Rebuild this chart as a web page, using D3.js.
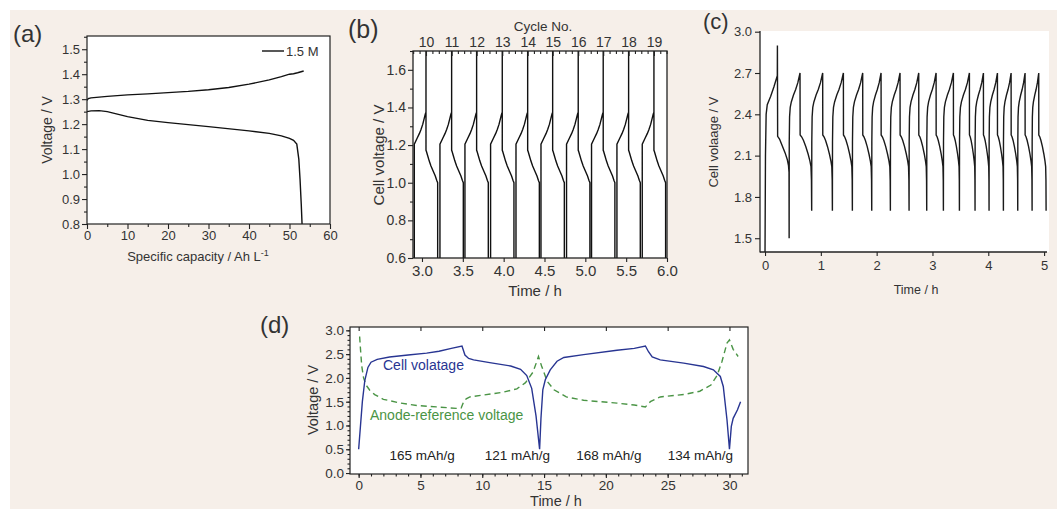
<!DOCTYPE html>
<html>
<head>
<meta charset="utf-8">
<script src="https://cdn.jsdelivr.net/npm/d3@7/dist/d3.min.js"></script>
<style>
  body { margin: 0; background: #fff; }
  svg { display: block; font-family: "Liberation Sans", Arial, sans-serif; }
</style>
</head>
<body>
<svg id="fig" width="1057" height="509"></svg>
<script>
// ---- panel (a): charge / discharge vs capacity
var aChargeCap = [0, 0.3, 1, 5, 10, 15, 20, 25, 30, 35, 40, 45, 48, 50, 51, 52, 53.5];
var aChargeV   = [1.295, 1.302, 1.305, 1.311, 1.317, 1.321, 1.326, 1.331, 1.338, 1.347, 1.36, 1.377, 1.39, 1.40, 1.402, 1.406, 1.413];
var aDisCap = [0, 1, 3, 5, 8, 10, 15, 20, 30, 40, 45, 48, 50, 51, 51.8, 52.3, 52.6, 52.9, 53.1];
var aDisV   = [1.25, 1.253, 1.254, 1.25, 1.238, 1.23, 1.215, 1.206, 1.19, 1.173, 1.163, 1.153, 1.143, 1.135, 1.12, 1.06, 0.98, 0.88, 0.8];
var aXTicks = [0, 10, 20, 30, 40, 50, 60];
var aYTicks = [0.8, 0.9, 1.0, 1.1, 1.2, 1.3, 1.4, 1.5];

// ---- panel (b): cycles 10-19, one cycle shape, cycle charge-end times
var bCycleNo = [10, 11, 12, 13, 14, 15, 16, 17, 18, 19];
var bChargeEnd = [3.049, 3.363, 3.669, 3.983, 4.294, 4.60, 4.913, 5.219, 5.53, 5.84];
var bChgRelT = [-0.143, -0.11, -0.08, -0.061, -0.04, -0.02, -0.008, 0];
var bChgV    = [1.205, 1.235, 1.262, 1.283, 1.31, 1.345, 1.365, 1.375];
var bDisRelT = [0, 0.004, 0.02, 0.04, 0.061, 0.09, 0.114, 0.132, 0.143];
var bDisV    = [1.172, 1.168, 1.145, 1.115, 1.089, 1.06, 1.036, 1.012, 1.0];
var bXTicks = [3.0, 3.5, 4.0, 4.5, 5.0, 5.5, 6.0];
var bYTicks = [0.6, 0.8, 1.0, 1.2, 1.4, 1.6];

// ---- panel (c): first cycle, then peak / bottom times of every cycle
var cFirstT = [0, 0.008, 0.02, 0.04, 0.1, 0.16, 0.22, 0.222, 0.226, 0.26, 0.31, 0.36, 0.40, 0.42, 0.43, 0.432];
var cFirstV = [1.4, 2.1, 2.4, 2.47, 2.53, 2.6, 2.68, 2.9, 2.24, 2.22, 2.17, 2.12, 2.07, 2.03, 1.98, 1.5];
var cPeakT   = [0.22, 0.627, 1.033, 1.404, 1.750, 2.079, 2.419, 2.754, 3.065, 3.375, 3.662, 3.913, 4.164, 4.409, 4.659, 4.904];
var cBottomT = [0.432, 0.836, 1.207, 1.565, 1.912, 2.246, 2.581, 2.897, 3.196, 3.483, 3.763, 4.014, 4.271, 4.528, 4.785, 5.036];
var cBottomV = [1.5, 1.7, 1.7, 1.7, 1.7, 1.7, 1.7, 1.7, 1.7, 1.7, 1.7, 1.7, 1.7, 1.7, 1.7, 1.7];
var cChgFrac = [0, 0.01, 0.04, 0.1, 0.2, 0.4, 0.6, 0.8, 1];
var cChgV    = [null, 2.2, 2.38, 2.45, 2.49, 2.54, 2.58, 2.63, 2.7];
var cDisFrac = [0, 0.01, 0.15, 0.3, 0.5, 0.7, 0.85, 0.94, 0.98, 1];
var cDisV    = [2.7, 2.25, 2.235, 2.21, 2.165, 2.11, 2.06, 2.02, 1.92, null];
var cXTicks = [0, 1, 2, 3, 4, 5];
var cYTicks = [1.5, 1.8, 2.1, 2.4, 2.7, 3.0];

// ---- panel (d): cell and anode-reference voltage
var dCellT = [0, 0.15, 0.3, 0.5, 0.75, 1.0, 1.5, 2.5, 4, 5.5, 6.5, 7.5, 8.36, 8.6, 8.9, 9.3, 10.6, 12.3, 13.1, 13.6, 14.0, 14.35, 14.64,
              14.75, 14.9, 15.1, 15.5, 16.05, 16.6, 18.2, 20.9, 22.3, 23.2, 23.45, 23.75, 24.4, 26.3, 27.9, 28.7, 29.26, 29.5, 29.8, 30.0,
              30.15, 30.3, 30.65, 30.9];
var dCellV = [0.5, 1.0, 1.5, 1.95, 2.22, 2.33, 2.39, 2.44, 2.48, 2.52, 2.56, 2.62, 2.67, 2.48, 2.41, 2.38, 2.32, 2.25, 2.18, 2.05, 1.78, 1.2, 0.5,
              1.15, 1.75, 1.96, 2.17, 2.35, 2.43, 2.49, 2.58, 2.62, 2.67, 2.55, 2.44, 2.38, 2.31, 2.24, 2.17, 2.03, 1.82, 1.12, 0.5,
              0.98, 1.15, 1.33, 1.5];
var dAnodeT = [0.08, 0.15, 0.25, 0.4, 0.6, 0.9, 1.3, 2.0, 3.4, 4.7, 6.3, 7.9, 8.3, 8.5, 8.7, 9.0, 10.1, 11.7, 12.8, 13.5, 14.1, 14.35, 14.55,
               14.8, 15.25, 15.8, 16.8, 18.2, 20.9, 22.3, 23.2, 23.6, 24.4, 26.3, 27.6, 28.5, 29.0, 29.4, 29.8, 30.0, 30.3, 30.7];
var dAnodeV = [2.87, 2.6, 2.25, 2.0, 1.85, 1.74, 1.65, 1.55, 1.47, 1.42, 1.39, 1.36, 1.37, 1.5, 1.56, 1.6, 1.64, 1.7, 1.77, 1.9, 2.12, 2.3, 2.45,
               2.25, 1.93, 1.75, 1.6, 1.53, 1.47, 1.43, 1.39, 1.5, 1.6, 1.65, 1.72, 1.85, 2.05, 2.35, 2.73, 2.8, 2.6, 2.45];
var dCapLabels = ["165 mAh/g", "121 mAh/g", "168 mAh/g", "134 mAh/g"];
var dCapLabelT = [2.5, 10.2, 17.6, 25.0];
var dXTicks = [0, 5, 10, 15, 20, 25, 30];
var dYTicks = [0.0, 0.5, 1.0, 1.5, 2.0, 2.5, 3.0];

var INK = '#222', TXT = '#333';
var svg = d3.select('#fig');
var defs = svg.append('defs');

svg.append('rect').attr('x', 10).attr('y', 10).attr('width', 1047).attr('height', 499).attr('fill', '#f6efe9');

function addAxis(axis, tx, ty, size) {
	var a = svg.append('g').attr('transform', 'translate(' + tx + ',' + ty + ')').call(axis);
	a.attr('font-family', null).attr('font-size', size);
	a.select('.domain').remove();
	a.selectAll('line').attr('stroke', INK).attr('stroke-width', 1.1);
	a.selectAll('text').attr('fill', TXT);
	return a;
}

function mids(arr) {
	var out = [];
	for (var i = 0; i < arr.length - 1; i++) out.push((arr[i] + arr[i + 1]) / 2);
	return out;
}

function label(txt, x, y, size, opts) {
	opts = opts || {};
	var t = svg.append('text').attr('x', x).attr('y', y).attr('font-size', size)
		.attr('fill', opts.fill || TXT).attr('text-anchor', opts.anchor || 'middle').text(txt);
	if (opts.rotate) t.attr('transform', 'rotate(-90,' + x + ',' + y + ')');
	return t;
}

function clip(id, x, y, w, h) {
	defs.append('clipPath').attr('id', id).append('rect').attr('x', x).attr('y', y).attr('width', w).attr('height', h);
}

// ================= (a)
(function () {
	var x = d3.scaleLinear().domain([0, 60]).range([87, 330]);
	var y = d3.scaleLinear().domain([0.8, 1.553]).range([224, 36]);
	svg.append('rect').attr('x', 87).attr('y', 36).attr('width', 243).attr('height', 188).attr('fill', '#fff');

	var line = d3.line().x(function (d) { return x(d[0]); }).y(function (d) { return y(d[1]); });
	clip('clipA', 87, 36, 243, 188);
	var g = svg.append('g').attr('clip-path', 'url(#clipA)');
	g.append('path').attr('d', line(d3.zip(aChargeCap, aChargeV))).attr('fill', 'none').attr('stroke', '#111').attr('stroke-width', 1.4);
	g.append('path').attr('d', line(d3.zip(aDisCap, aDisV))).attr('fill', 'none').attr('stroke', '#111').attr('stroke-width', 1.4);

	addAxis(d3.axisLeft(y).tickValues(aYTicks).tickSize(5).tickPadding(2).tickFormat(d3.format('.1f')), 87, 0, 13);
	addAxis(d3.axisLeft(y).tickValues(mids(aYTicks).concat([1.55])).tickSize(3).tickFormat(''), 87, 0, 13);
	addAxis(d3.axisBottom(x).tickValues(aXTicks).tickSize(5).tickPadding(2), 0, 224, 13);
	addAxis(d3.axisBottom(x).tickValues(mids(aXTicks)).tickSize(3).tickFormat(''), 0, 224, 13);
	svg.append('rect').attr('x', 87).attr('y', 36).attr('width', 243).attr('height', 188)
		.attr('fill', 'none').attr('stroke', INK).attr('stroke-width', 1.2);

	svg.append('line').attr('x1', 262).attr('x2', 284).attr('y1', 51).attr('y2', 51).attr('stroke', '#111').attr('stroke-width', 1.4);
	label('1.5 M', 286, 56, 13, { anchor: 'start' });

	var t = label('Specific capacity / Ah L', 198, 261, 13);
	t.append('tspan').attr('dy', -5).attr('font-size', 9).text('-1');
	label('Voltage / V', 52, 130, 14, { rotate: true });
	label('(a)', 13, 42, 24, { anchor: 'start' });
})();

// ================= (b)
(function () {
	var x = d3.scaleLinear().domain([2.89, 6.0]).range([413, 667]);
	var y = d3.scaleLinear().domain([0.6, 1.7]).range([258, 51]);
	svg.append('rect').attr('x', 413).attr('y', 51).attr('width', 254).attr('height', 207).attr('fill', '#fff');

	var pts = [];
	bChargeEnd.forEach(function (tc) {
		pts.push([tc + bChgRelT[0], 0.5]);
		bChgRelT.forEach(function (r, k) { pts.push([tc + r, bChgV[k]]); });
		pts.push([tc, 1.8]);
		bDisRelT.forEach(function (r, k) { pts.push([tc + r, bDisV[k]]); });
		pts.push([tc + bDisRelT[bDisRelT.length - 1], 0.5]);
	});
	var line = d3.line().x(function (d) { return x(d[0]); }).y(function (d) { return y(d[1]); });
	clip('clipB', 413, 51, 254, 207);
	svg.append('g').attr('clip-path', 'url(#clipB)').append('path').attr('d', line(pts))
		.attr('fill', 'none').attr('stroke', '#111').attr('stroke-width', 1.4);

	addAxis(d3.axisLeft(y).tickValues(bYTicks).tickSize(5).tickPadding(2).tickFormat(d3.format('.1f')), 413, 0, 14);
	addAxis(d3.axisLeft(y).tickValues(mids(bYTicks).concat([1.7])).tickSize(3).tickFormat(''), 413, 0, 14);
	addAxis(d3.axisBottom(x).tickValues(bXTicks).tickSize(4).tickPadding(3).tickFormat(d3.format('.1f')), 0, 258, 15);

	// top axis: cycle numbers
	addAxis(d3.axisTop(x).tickValues(bChargeEnd).tickSize(-5).tickPadding(4)
		.tickFormat(function (d, i) { return bCycleNo[i]; }), 0, 51, 14);
	var minor = [];
	bChargeEnd.forEach(function (tc, i) {
		var p = i < bChargeEnd.length - 1 ? bChargeEnd[i + 1] - tc : bChargeEnd[i] - bChargeEnd[i - 1];
		[0.25, 0.5, 0.75].forEach(function (f) { if (tc + f * p < 6.0) minor.push(tc + f * p); });
		if (i === 0) [0.25, 0.5].forEach(function (f) { minor.push(tc - f * p); });
	});
	addAxis(d3.axisTop(x).tickValues(minor).tickSize(-3).tickFormat(''), 0, 51, 14);

	svg.append('rect').attr('x', 413).attr('y', 51).attr('width', 254).attr('height', 207)
		.attr('fill', 'none').attr('stroke', INK).attr('stroke-width', 1.3);

	label('Cycle No.', 543, 31, 13.5);
	label('Time / h', 535, 296, 15);
	label('Cell voltage / V', 384, 155, 15, { rotate: true });
	label('(b)', 348, 38, 25, { anchor: 'start' });
})();

// ================= (c)
(function () {
	var x = d3.scaleLinear().domain([-0.09, 5.07]).range([760, 1048]);
	var y = d3.scaleLinear().domain([1.4, 3.0]).range([252, 31.7]);
	svg.append('rect').attr('x', 760).attr('y', 31).attr('width', 289).attr('height', 221).attr('fill', '#fff');

	var pts = d3.zip(cFirstT, cFirstV);
	for (var i = 1; i < cPeakT.length; i++) {
		var ts = cBottomT[i - 1], tp = cPeakT[i], tb = cBottomT[i];
		cChgFrac.forEach(function (f, k) { pts.push([ts + f * (tp - ts), k === 0 ? cBottomV[i - 1] : cChgV[k]]); });
		cDisFrac.forEach(function (f, k) { pts.push([tp + f * (tb - tp), k === cDisFrac.length - 1 ? cBottomV[i] : cDisV[k]]); });
	}
	var line = d3.line().x(function (d) { return x(d[0]); }).y(function (d) { return y(d[1]); });
	clip('clipC', 760, 31, 289, 221);
	svg.append('g').attr('clip-path', 'url(#clipC)').append('path').attr('d', line(pts))
		.attr('fill', 'none').attr('stroke', '#1a1a1a').attr('stroke-width', 1.4);

	addAxis(d3.axisLeft(y).tickValues(cYTicks).tickSize(5).tickPadding(3).tickFormat(d3.format('.1f')), 760, 0, 13);
	addAxis(d3.axisBottom(x).tickValues(cXTicks).tickSize(4).tickPadding(5).tickFormat(d3.format('d')), 0, 252, 13);
	svg.append('line').attr('x1', 760).attr('x2', 760).attr('y1', 31).attr('y2', 252.5).attr('stroke', INK).attr('stroke-width', 1.3);
	svg.append('line').attr('x1', 760).attr('x2', 1047).attr('y1', 252).attr('y2', 252).attr('stroke', INK).attr('stroke-width', 1.3);

	label('Time / h', 916, 294, 12.5);
	label('Cell volaage / V', 718, 142, 13, { rotate: true });
	label('(c)', 703, 29, 22, { anchor: 'start' });
})();

// ================= (d)
(function () {
	var x = d3.scaleLinear().domain([-0.7, 31.5]).range([350, 748]);
	var y = d3.scaleLinear().domain([-0.02, 3.07]).range([474, 327]);
	svg.append('rect').attr('x', 350).attr('y', 327).attr('width', 398).attr('height', 147).attr('fill', '#fff');

	var line = d3.line().x(function (d) { return x(d[0]); }).y(function (d) { return y(d[1]); });
	clip('clipD', 350, 327, 398, 147);
	var g = svg.append('g').attr('clip-path', 'url(#clipD)');
	g.append('path').attr('d', line(d3.zip(dAnodeT, dAnodeV))).attr('fill', 'none')
		.attr('stroke', '#4a9445').attr('stroke-width', 1.4).attr('stroke-dasharray', '6,4');
	g.append('path').attr('d', line(d3.zip(dCellT, dCellV))).attr('fill', 'none')
		.attr('stroke', '#283592').attr('stroke-width', 1.4);

	addAxis(d3.axisLeft(y).tickValues(dYTicks).tickSize(4).tickPadding(2).tickFormat(d3.format('.1f')), 350, 0, 13.5);
	addAxis(d3.axisLeft(y).tickValues(d3.range(0.1, 3.05, 0.1)).tickSize(2.5).tickFormat(''), 350, 0, 13.5);
	addAxis(d3.axisBottom(x).tickValues(dXTicks).tickSize(4).tickPadding(2), 0, 474, 13.5);
	addAxis(d3.axisBottom(x).tickValues(d3.range(0, 32, 1)).tickSize(2.5).tickFormat(''), 0, 474, 13.5);
	addAxis(d3.axisTop(x).tickValues(dXTicks).tickSize(-4).tickFormat(''), 0, 327, 13.5);
	svg.append('rect').attr('x', 350).attr('y', 327).attr('width', 398).attr('height', 147)
		.attr('fill', 'none').attr('stroke', INK).attr('stroke-width', 1.2);

	label('Cell volatage', 383, 370, 14, { anchor: 'start', fill: '#283592' });
	label('Anode-reference voltage', 370, 420, 14, { anchor: 'start', fill: '#4a9445' });
	dCapLabels.forEach(function (s, i) {
		label(s, x(dCapLabelT[i]), 460, 13.5, { anchor: 'start', fill: '#222' });
	});
	label('Time / h', 556, 506, 14.5);
	label('Voltage / V', 318, 400, 14.5, { rotate: true });
	label('(d)', 260, 333, 24, { anchor: 'start' });
})();
</script>
</body>
</html>
